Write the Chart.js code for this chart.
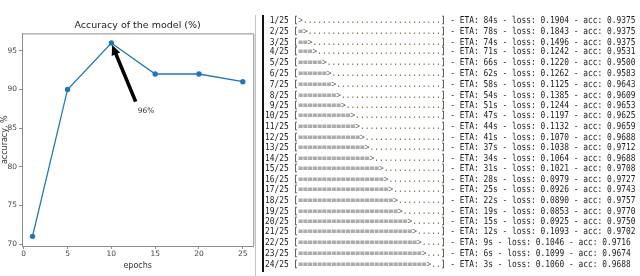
<!DOCTYPE html>
<html>
<head>
<meta charset="utf-8">
<script src="https://cdn.jsdelivr.net/npm/chart.js@4/dist/chart.umd.min.js"></script>
<style>
  html, body { margin: 0; padding: 0; background: #fff; }
  #wrap { position: relative; width: 640px; height: 276px; overflow: hidden; }
  #plot { position: absolute; left: 0; top: 0; }
  #edge { position: absolute; left: 255px; top: 15px; width: 1px; height: 261px; background: #c4c4c4; }
  #rule { position: absolute; left: 262px; top: 15px; width: 2px; height: 257px; background: #111; }
  #log {
    position: absolute; left: 265px; top: 16.4px; margin: 0;
    font-family: "DejaVu Sans Mono", monospace; font-size: 7.9px; line-height: 8.82px;
    color: #1c1c1c; white-space: pre;
    transform: scaleY(1.2); transform-origin: 0 0;
  }
  #log .eq { color: #5e5e5e; }
  #log .dot { color: #7a6533; }
</style>
</head>
<body>
<div id="wrap">
  <canvas id="plot" width="256" height="276"></canvas>
  <div id="edge"></div>
  <div id="rule"></div>
  <pre id="log"></pre>
</div>
<script>
// chart data
const epochs = [1, 5, 10, 15, 20, 25];
const accuracy = [71, 90, 96, 92, 92, 91];
const xTicks = [0, 5, 10, 15, 20, 25];
const yTicks = [70, 75, 80, 85, 90, 95];
const noteXY = [10, 96];
const noteText = [13, 87];
const noteLabel = '96%';

// training log data
const totalSteps = 25;
const etas = [84, 78, 74, 71, 66, 62, 58, 54, 51, 47, 44, 41, 37, 34, 31, 28, 25, 22, 19, 15, 12, 9, 6, 3];
const losses = ['0.1904', '0.1843', '0.1496', '0.1242', '0.1220', '0.1262', '0.1125', '0.1385', '0.1244', '0.1197',
  '0.1132', '0.1070', '0.1038', '0.1064', '0.1021', '0.0979', '0.0926', '0.0890', '0.0853', '0.0925',
  '0.1093', '0.1046', '0.1099', '0.1060'];
const accs = ['0.9375', '0.9375', '0.9375', '0.9531', '0.9500', '0.9583', '0.9643', '0.9609', '0.9653', '0.9625',
  '0.9659', '0.9688', '0.9712', '0.9688', '0.9708', '0.9727', '0.9743', '0.9757', '0.9770', '0.9750',
  '0.9702', '0.9716', '0.9674', '0.9688'];

// keras style progress lines
const logLines = etas.map((eta, i) => {
  const cur = i + 1;
  const w = Math.floor(30 * cur / totalSteps);
  const eq = '='.repeat(Math.max(w - 1, 0)) + (cur < totalSteps ? '&gt;' : '=');
  const dots = '.'.repeat(30 - w);
  return String(cur).padStart(2) + '/' + totalSteps + ' [<span class="eq">' + eq + '</span><span class="dot">' +
    dots + '</span>] - ETA: ' + eta + 's - loss: ' + losses[i] + ' - acc: ' + accs[i];
});
document.getElementById('log').innerHTML = logLines.join('\n');

const spineColor = '#8c8c8c';

// top + right spines
const frame = {
  id: 'frame',
  afterDraw(chart) {
    const { ctx, chartArea: a } = chart;
    ctx.save();
    ctx.strokeStyle = spineColor;
    ctx.lineWidth = 1;
    ctx.beginPath();
    ctx.moveTo(a.left, a.top + 0.5);
    ctx.lineTo(a.right + 0.5, a.top + 0.5);
    ctx.lineTo(a.right + 0.5, a.bottom);
    ctx.stroke();
    ctx.restore();
  }
};

// annotate arrow "96%"
const arrowNote = {
  id: 'arrowNote',
  afterDatasetsDraw(chart) {
    const { ctx, scales: { x, y } } = chart;
    const px = x.getPixelForValue(noteXY[0]), py = y.getPixelForValue(noteXY[1]);
    const tx = x.getPixelForValue(noteText[0]), ty = y.getPixelForValue(noteText[1]);
    const sx = tx - 2, sy = ty - 11;
    let dx = px - sx, dy = py - sy;
    const len = Math.hypot(dx, dy);
    dx /= len; dy /= len;
    const ex = px - dx * 2, ey = py - dy * 2;
    const nx = -dy, ny = dx;
    const headLen = 10, headW = 4.6, shaftW = 1.8;
    const bx = ex - dx * headLen, by = ey - dy * headLen;
    ctx.save();
    ctx.fillStyle = '#000';
    ctx.beginPath();
    ctx.moveTo(sx + nx * shaftW, sy + ny * shaftW);
    ctx.lineTo(bx + nx * shaftW, by + ny * shaftW);
    ctx.lineTo(bx + nx * headW, by + ny * headW);
    ctx.lineTo(ex, ey);
    ctx.lineTo(bx - nx * headW, by - ny * headW);
    ctx.lineTo(bx - nx * shaftW, by - ny * shaftW);
    ctx.lineTo(sx - nx * shaftW, sy - ny * shaftW);
    ctx.closePath();
    ctx.fill();
    ctx.fillStyle = '#333';
    ctx.font = '7.5px "DejaVu Sans"';
    ctx.textAlign = 'left';
    ctx.textBaseline = 'alphabetic';
    ctx.fillText(noteLabel, tx, ty);
    ctx.restore();
  }
};

const tickFont = { family: 'DejaVu Sans', size: 7.5 };

new Chart(document.getElementById('plot'), {
  type: 'line',
  data: {
    datasets: [{
      data: epochs.map((e, i) => ({ x: e, y: accuracy[i] })),
      borderColor: '#1f77b4',
      backgroundColor: '#1f77b4',
      borderWidth: 1.3,
      pointRadius: 2.7,
      pointHoverRadius: 2.7,
      pointBorderWidth: 0,
      tension: 0
    }]
  },
  options: {
    responsive: false,
    animation: false,
    events: [],
    layout: { padding: { right: 2 } },
    scales: {
      x: {
        type: 'linear',
        min: -0.2,
        max: 26.2,
        afterBuildTicks: s => { s.ticks = xTicks.map(v => ({ value: v })); },
        afterFit: s => { s.height = 30; },
        border: { color: spineColor, width: 1 },
        grid: { drawOnChartArea: false, tickLength: 3, color: spineColor },
        ticks: { color: '#444', font: tickFont, padding: 1, maxRotation: 0, autoSkip: false },
        title: { display: true, text: 'epochs', color: '#333', font: { family: 'DejaVu Sans', size: 8 }, padding: { top: 0, bottom: 5 } }
      },
      y: {
        min: 69.75,
        max: 97.25,
        afterBuildTicks: s => { s.ticks = yTicks.map(v => ({ value: v })); },
        afterFit: s => { s.width = 22; },
        border: { color: spineColor, width: 1 },
        grid: { drawOnChartArea: false, tickLength: 3, color: spineColor },
        ticks: { color: '#444', font: tickFont, padding: 2, autoSkip: false },
        title: { display: true, text: 'accuracy, %', color: '#333', font: { family: 'DejaVu Sans', size: 8 }, padding: 0 }
      }
    },
    plugins: {
      legend: { display: false },
      tooltip: { enabled: false },
      title: {
        display: true,
        fullSize: false,
        text: 'Accuracy of the model (%)',
        color: '#222',
        font: { family: 'DejaVu Sans', size: 9.5, weight: 'normal' },
        padding: { top: 20, bottom: 2 }
      }
    }
  },
  plugins: [frame, arrowNote]
});
</script>
</body>
</html>
